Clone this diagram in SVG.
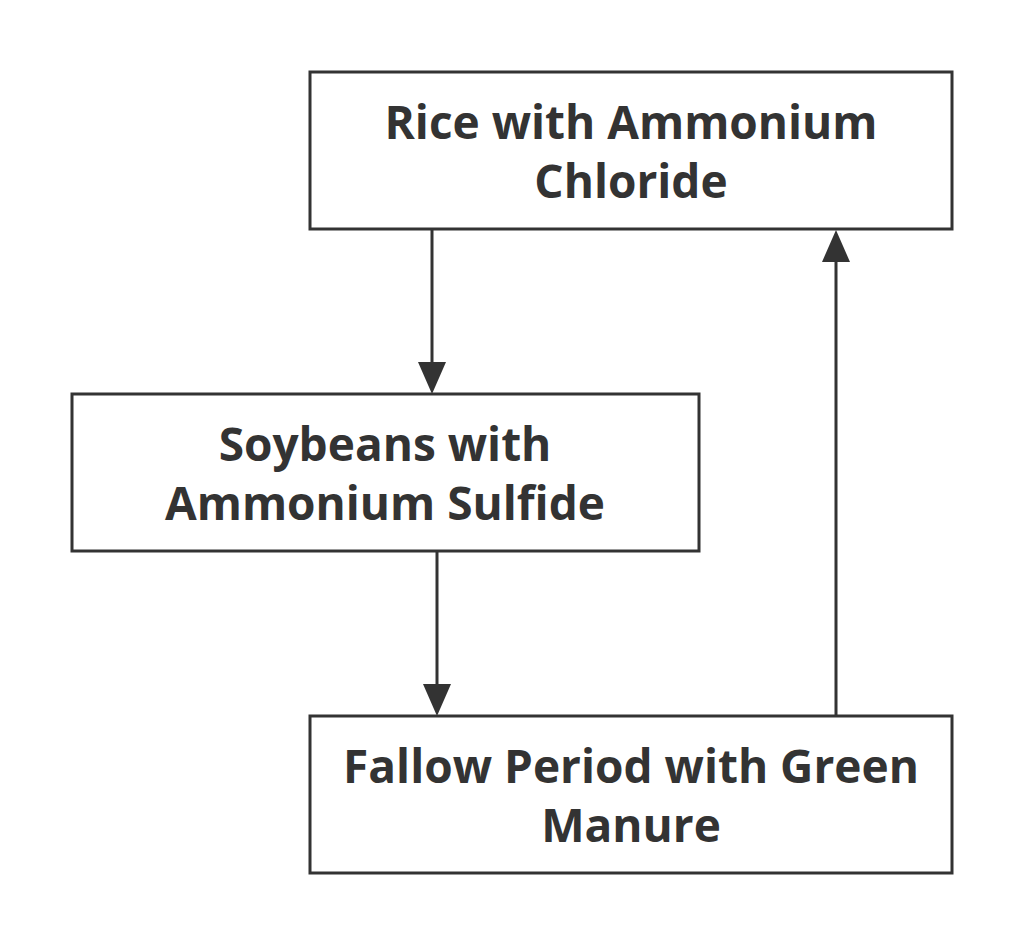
<svg xmlns="http://www.w3.org/2000/svg" width="1024" height="946" viewBox="0 0 1024 946">
<style>
.box{fill:#fff;stroke:#333;stroke-width:3}
.t{font-family:"Open Sans","Noto Sans",sans-serif;font-weight:bold;font-size:46px;fill:#333;text-anchor:middle}
.c{stroke:#333;stroke-width:3;fill:none}
.h{fill:#333}
</style>
<rect width="1024" height="946" fill="#fff"/>
<g id="connectors">
<path class="c" d="M432,229 V370"/>
<path class="h" d="M418,362 L432,394 L446,362 z"/>
<path class="c" d="M437,551 V690"/>
<path class="h" d="M423,684 L437,716 L451,684 z"/>
<path class="c" d="M836,716 V255"/>
<path class="h" d="M822,262 L836,230 L850,262 z"/>
</g>
<g id="n1"><rect class="box" x="310" y="72" width="642" height="157"/>
<text class="t" x="631" y="139">Rice with Ammonium</text><text class="t" x="631" y="198">Chloride</text></g>
<g id="n2"><rect class="box" x="72" y="394" width="627" height="157"/>
<text class="t" x="385" y="461">Soybeans with</text><text class="t" x="385" y="520">Ammonium Sulfide</text></g>
<g id="n3"><rect class="box" x="310" y="716" width="642" height="157"/>
<text class="t" x="631" y="783">Fallow Period with Green</text><text class="t" x="631" y="842">Manure</text></g>
</svg>
